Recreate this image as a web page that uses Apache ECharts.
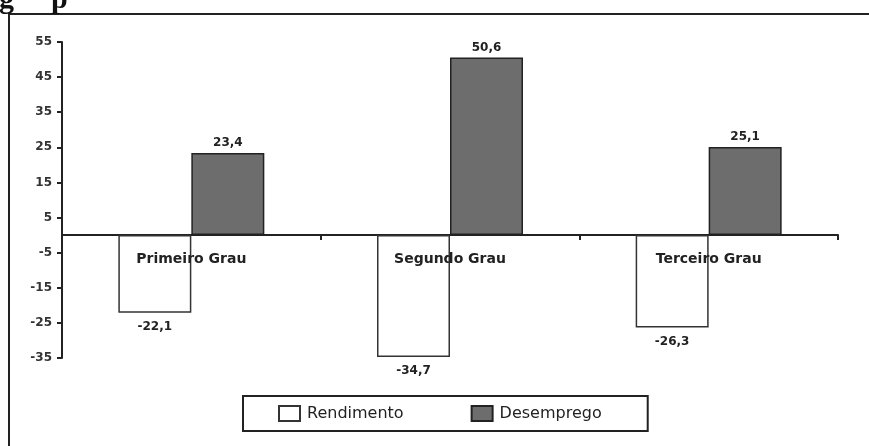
<!DOCTYPE html>
<html>
<head>
<meta charset="utf-8">
<script src="https://cdn.jsdelivr.net/npm/echarts@6/dist/echarts.min.js"></script>
<style>
html,body{margin:0;padding:0;background:#fff;}
#chart{width:869px;height:446px;}
</style>
</head>
<body>
<div id="chart"></div>
<script>
const categories = ['Primeiro Grau', 'Segundo Grau', 'Terceiro Grau'];
const rendimento = [-22.1, -34.7, -26.3];
const desemprego = [23.4, 50.6, 25.1];
const seriesNames = ['Rendimento', 'Desemprego'];
const yMin = -35, yMax = 55, yStep = 10;

const fmt = v => String(v).replace('.', ',');
const toData = arr => arr.map(v => ({
  value: v,
  label: { position: v < 0 ? 'bottom' : 'top', distance: v < 0 ? 8 : 4 }
}));

const chart = echarts.init(document.getElementById('chart'), null, { renderer: 'canvas' });
const labelStyle = {
  show: true,
  formatter: p => fmt(p.value),
  fontFamily: 'DejaVu Sans',
  fontWeight: 'bold',
  fontSize: 12,
  color: '#222'
};
chart.setOption({
  animation: false,
  backgroundColor: '#fff',
  graphic: [
    { type: 'rect', shape: { x: 9, y: 14, width: 900, height: 500 }, style: { fill: 'none', stroke: '#222', lineWidth: 2 }, z: 0 },
    { type: 'text', x: -1, y: -15, style: { text: 'g', font: 'bold 30px "Liberation Serif"', fill: '#111', verticalAlign: 'top' } },
    { type: 'text', x: 51, y: -15, style: { text: 'p', font: 'bold 30px "Liberation Serif"', fill: '#111', verticalAlign: 'top' } }
  ],
  grid: { left: 62, right: 31, top: 42, bottom: 88, containLabel: false },
  legend: {
    data: seriesNames,
    left: 243,
    top: 396,
    orient: 'horizontal',
    icon: 'rect',
    itemWidth: 21,
    itemHeight: 15,
    itemGap: 67,
    padding: [9, 46, 9, 35],
    borderColor: '#222',
    borderWidth: 2,
    textStyle: { fontFamily: 'DejaVu Sans', fontSize: 16, color: '#222', padding: [0, 0, 0, 2] }
  },
  xAxis: {
    type: 'category',
    data: categories,
    axisLine: { onZero: true, lineStyle: { color: '#222', width: 2 } },
    axisTick: { show: true, length: 5, lineStyle: { color: '#222', width: 2 } },
    axisLabel: { show: false },
    splitLine: { show: false }
  },
  yAxis: {
    type: 'value',
    min: yMin,
    max: yMax,
    interval: yStep,
    axisLine: { show: true, lineStyle: { color: '#222', width: 2 } },
    axisTick: { show: true, length: 5, lineStyle: { color: '#222', width: 2 } },
    axisLabel: { fontFamily: 'DejaVu Sans', fontWeight: 'bold', fontSize: 12, color: '#333', margin: 10 },
    splitLine: { show: false }
  },
  series: [
    {
      name: seriesNames[0],
      type: 'bar',
      data: toData(rendimento),
      barWidth: 73,
      barGap: '0%',
      itemStyle: { color: '#ffffff', borderColor: '#333', borderWidth: 1.5 },
      label: labelStyle
    },
    {
      name: seriesNames[1],
      type: 'bar',
      data: toData(desemprego),
      barWidth: 73,
      barGap: '0%',
      itemStyle: { color: '#6d6d6d', borderColor: '#222', borderWidth: 1.5 },
      label: labelStyle
    },
    {
      name: 'categoryLabels',
      type: 'scatter',
      silent: true,
      symbolSize: 0,
      data: categories.map(c => [c, 0]),
      z: 5,
      itemStyle: { opacity: 1 },
      label: {
        show: true,
        position: 'bottom',
        distance: 17,
        formatter: p => p.data[0],
        fontFamily: 'DejaVu Sans',
        fontWeight: 'bold',
        fontSize: 14,
        color: '#222',
        opacity: 1
      }
    }
  ]
});
</script>
</body>
</html>
